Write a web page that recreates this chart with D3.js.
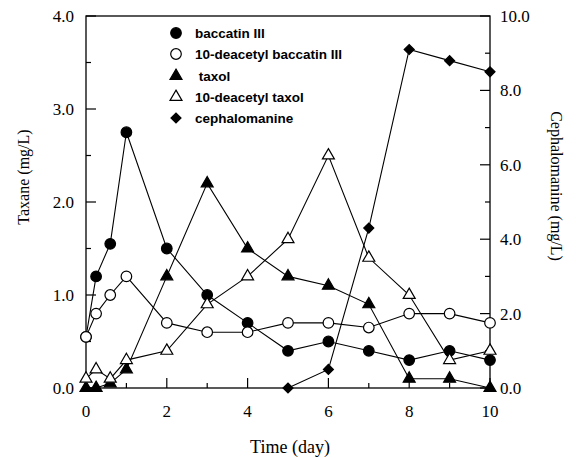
<!DOCTYPE html>
<html>
<head>
<meta charset="utf-8">
<script src="https://cdn.jsdelivr.net/npm/d3@7"></script>
<style>
  body { margin: 0; background: #fff; }
  svg { display: block; }
</style>
</head>
<body>
<svg id="chart" width="576" height="458"></svg>
<script>
// values
let days = [0, 0.25, 0.6, 1, 2, 3, 4, 5, 6, 7, 8, 9, 10]
let baccatin = [0.55, 1.2, 1.55, 2.75, 1.5, 1.0, 0.7, 0.4, 0.5, 0.4, 0.3, 0.4, 0.3]
let deacetylBaccatin = [0.55, 0.8, 1.0, 1.2, 0.7, 0.6, 0.6, 0.7, 0.7, 0.65, 0.8, 0.8, 0.7]
let taxol = [0.0, 0.0, 0.05, 0.2, 1.2, 2.2, 1.5, 1.2, 1.1, 0.9, 0.1, 0.1, 0.0]
let deacetylTaxol = [0.1, 0.2, 0.1, 0.3, 0.4, 0.9, 1.2, 1.6, 2.5, 1.4, 1.0, 0.3, 0.4]
let cephaDays = [5, 6, 7, 8, 9, 10]
let cephalomanine = [0.0, 0.5, 4.3, 9.1, 8.8, 8.5]

let legendNames = ['baccatin III', '10-deacetyl baccatin III', ' taxol', '10-deacetyl taxol', 'cephalomanine']
let xTicks = [0, 2, 4, 6, 8, 10]
let leftTicks = [0, 1, 2, 3, 4]
let rightTicks = [0, 2, 4, 6, 8, 10]

let svg = d3.select('#chart')
let plotLeft = 86, plotRight = 490, plotTop = 16, plotBottom = 388

let x = d3.scaleLinear().domain([0, 10]).range([plotLeft, plotRight])
let yL = d3.scaleLinear().domain([0, 4]).range([plotBottom, plotTop])
let yR = d3.scaleLinear().domain([0, 10]).range([plotBottom, plotTop])

let serif = '"Liberation Serif", "Times New Roman", serif'
let sans = '"Liberation Sans", Arial, sans-serif'

// frame
svg.append('rect')
   .attr('x', plotLeft).attr('y', plotTop)
   .attr('width', plotRight - plotLeft).attr('height', plotBottom - plotTop)
   .attr('fill', 'none').attr('stroke', '#000').attr('stroke-width', 1.3)

let tickLine = (x1, y1, x2, y2) => {
    svg.append('line')
       .attr('x1', x1).attr('y1', y1).attr('x2', x2).attr('y2', y2)
       .attr('stroke', '#000').attr('stroke-width', 1.2)
}

// bottom ticks (inward)
d3.range(0, 11, 1).forEach((d) => {
    let len = d % 2 === 0 ? 10 : 5
    tickLine(x(d), plotBottom, x(d), plotBottom - len)
})
svg.selectAll('.xlab').data(xTicks).enter().append('text')
   .attr('x', (d) => x(d)).attr('y', 417)
   .attr('text-anchor', 'middle')
   .style('font-family', serif).style('font-size', '17px')
   .text((d) => d)

// left ticks
d3.range(0, 4.01, 0.5).forEach((d) => {
    let len = Math.abs(d % 1) < 0.01 ? 10 : 5
    tickLine(plotLeft, yL(d), plotLeft + len, yL(d))
})
svg.selectAll('.ylab').data(leftTicks).enter().append('text')
   .attr('x', 74).attr('y', (d) => yL(d) + 6)
   .attr('text-anchor', 'end')
   .style('font-family', serif).style('font-size', '17px')
   .text((d) => d3.format('.1f')(d))

// right ticks
d3.range(0, 10.01, 1).forEach((d) => {
    let len = d % 2 === 0 ? 10 : 5
    tickLine(plotRight, yR(d), plotRight - len, yR(d))
})
svg.selectAll('.rlab').data(rightTicks).enter().append('text')
   .attr('x', 500).attr('y', (d) => yR(d) + 6)
   .style('font-family', serif).style('font-size', '17px')
   .text((d) => d3.format('.1f')(d))

// axis titles
svg.append('text')
   .attr('transform', 'translate(29,177) rotate(-90)')
   .attr('text-anchor', 'middle')
   .style('font-family', serif).style('font-size', '16px')
   .text('Taxane (mg/L)')
svg.append('text')
   .attr('transform', 'translate(551,186) rotate(90)')
   .attr('text-anchor', 'middle')
   .style('font-family', serif).style('font-size', '16px')
   .text('Cephalomanine (mg/L)')
svg.append('text')
   .attr('x', 290).attr('y', 453)
   .attr('text-anchor', 'middle')
   .style('font-family', serif).style('font-size', '18px')
   .text('Time (day)')

// series
let series = [
    { xs: days, ys: baccatin, y: yL, shape: 'circle', fill: '#000' },
    { xs: days, ys: deacetylBaccatin, y: yL, shape: 'circle', fill: '#fff' },
    { xs: days, ys: taxol, y: yL, shape: 'triangle', fill: '#000' },
    { xs: days, ys: deacetylTaxol, y: yL, shape: 'triangle', fill: '#fff' },
    { xs: cephaDays, ys: cephalomanine, y: yR, shape: 'diamond', fill: '#000' }
]

let symbolPath = (shape) => {
    if (shape === 'circle') return d3.symbol(d3.symbolCircle, 88)()
    if (shape === 'triangle') return d3.symbol(d3.symbolTriangle, 62)()
    return d3.symbol(d3.symbolSquare, 50)()
}
let symbolRotate = (shape) => shape === 'diamond' ? ' rotate(45)' : ''

let line = d3.line()
series.forEach((s) => {
    let pts = s.xs.map((d, i) => [x(d), s.y(s.ys[i])])
    svg.append('path')
       .attr('d', line(pts))
       .attr('fill', 'none').attr('stroke', '#000').attr('stroke-width', 1.1)
})
series.forEach((s) => {
    svg.selectAll(null).data(s.xs.map((d, i) => [x(d), s.y(s.ys[i])])).enter()
       .append('path')
       .attr('d', symbolPath(s.shape))
       .attr('transform', (p) => 'translate(' + p[0] + ',' + p[1] + ')' + symbolRotate(s.shape))
       .attr('fill', s.fill).attr('stroke', '#000').attr('stroke-width', 1.2)
})

// legend
let legendY = [33, 54, 76, 97, 118]
series.forEach((s, i) => {
    svg.append('path')
       .attr('d', symbolPath(s.shape))
       .attr('transform', 'translate(176,' + legendY[i] + ')' + symbolRotate(s.shape))
       .attr('fill', s.fill).attr('stroke', '#000').attr('stroke-width', 1.2)
    svg.append('text')
       .attr('x', 195).attr('y', legendY[i] + 5)
       .style('font-family', sans).style('font-size', '13.5px').style('font-weight', 'bold')
       .style('white-space', 'pre')
       .text(legendNames[i])
})
</script>
</body>
</html>
